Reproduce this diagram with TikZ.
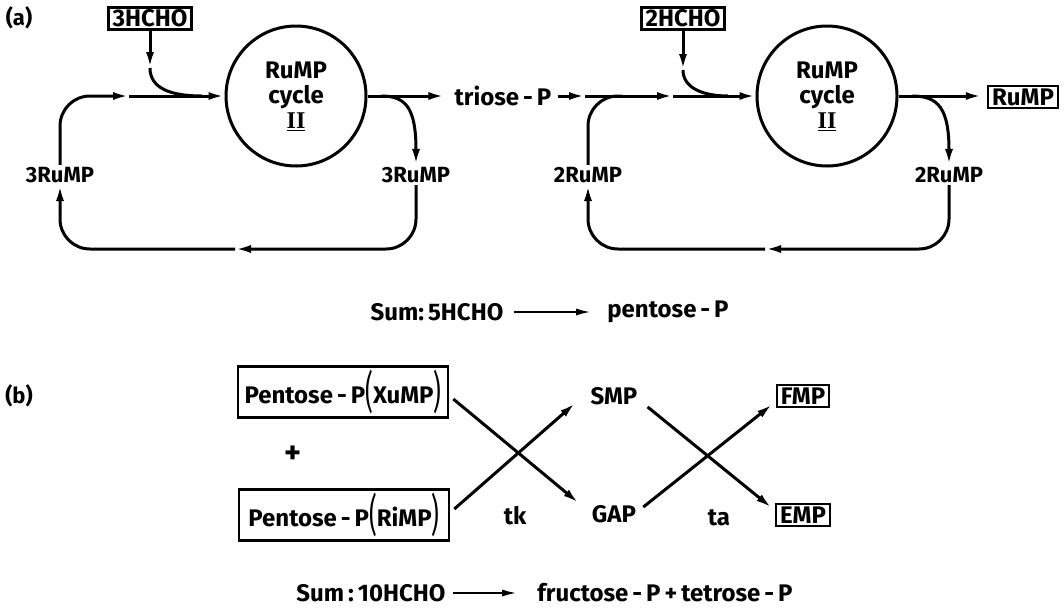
\documentclass[tikz,border=0pt]{standalone}
\usepackage{fontspec}
\usepackage{graphicx}
\setmainfont{Fira Sans}
\newfontfamily\romfont{Liberation Serif}
\usetikzlibrary{arrows.meta}
\tikzset{
  lbl/.style={font=\fontsize{24}{25}\selectfont\bfseries, inner sep=2pt},
  rlbl/.style={font=\fontsize{22}{22}\selectfont\bfseries, inner sep=2pt},
  boxed/.style={lbl, draw, line width=2.6pt, inner xsep=4pt, inner ysep=2.5pt},
  cyc/.style={circle, draw, line width=3pt, minimum size=140pt, inner sep=0pt, align=center, font=\fontsize{24}{25}\selectfont\bfseries},
  con/.style={line width=3pt},
  arr/.style={con, -{Latex[length=16pt,width=8pt]}},
  sumarr/.style={line width=2.2pt, -{Latex[length=15pt,width=7pt]}},
}
\newcommand{\bigpar}[1]{\raisebox{-4pt}{\scalebox{1}[1.85]{\mdseries #1}}}
\newcommand{\romtwo}{\underline{{\romfont\bfseries II}}}
\begin{document}
\begin{tikzpicture}[x=1pt,y=-1pt]
\useasboundingbox (0,0) rectangle (1064,611);
% ---------- (a) ----------
\node[rlbl] (pa) at (19,18) {(a)};
\node[boxed] (h3) at (150,18.5) {3HCHO};
\node[cyc] (c1) at (296,96) {RuMP\\cycle\\\romtwo};
\node[rlbl] (r3L) at (60,175) {3RuMP};
\node[rlbl] (r3R) at (416,175) {3RuMP};
\node[lbl] (tri) at (503,96) {triose\,-\,P};
\coordinate (m1) at (129,96);
\coordinate (h3m) at (150,68);
\coordinate (j1) at (202,96);
\coordinate (b1) at (381,96);
\coordinate (bm1) at (235,249);
\draw[arr, rounded corners=30pt] (r3L.north) |- (m1);
\draw[arr] (m1) -- (c1.west);
\draw[arr] (h3.south) -- (h3m);
\draw[con] (h3m) .. controls (150,88) and (170,96) .. (j1);
\draw[arr] (c1.east) -- ([xshift=-8pt]tri.west);
\draw[arr] (b1) .. controls (406,96) and (416,108) .. (r3R.north);
\draw[arr, rounded corners=30pt] (r3R.south) |- (bm1);
\draw[arr, rounded corners=30pt] (bm1) -| (r3L.south);
% second cycle
\node[boxed] (h2) at (683,18.5) {2HCHO};
\node[cyc] (c2) at (827,96) {RuMP\\cycle\\\romtwo};
\node[rlbl] (r2L) at (588,175) {2RuMP};
\node[rlbl] (r2R) at (949,175) {2RuMP};
\node[boxed] (rump) at (1023,97) {RuMP};
\coordinate (m3) at (585,96);
\coordinate (j3) at (622,96);
\coordinate (m4) at (673,96);
\coordinate (h2m) at (683,70);
\coordinate (j2) at (728,96);
\coordinate (b2) at (912,96);
\coordinate (bm2) at (765,249);
\draw[arr] ([xshift=4pt]tri.east) -- (m3);
\draw[arr] (m3) -- (m4);
\draw[arr] (m4) -- (c2.west);
\draw[con, rounded corners=30pt] (r2L.north) |- (j3);
\draw[arr] (h2.south) -- (h2m);
\draw[con] (h2m) .. controls (683,88) and (703,96) .. (j2);
\draw[arr] (c2.east) -- ([xshift=-5pt]rump.west |- c2.east);
\draw[arr] (b2) .. controls (938,96) and (949,108) .. (r2R.north);
\draw[arr, rounded corners=30pt] (r2R.south) |- (bm2);
\draw[arr, rounded corners=30pt] (bm2) -| (r2L.south);
% sum 1
\node[lbl] (s1a) at (437,312) {Sum:\,5HCHO};
\node[lbl] (s1b) at (668,312) {pentose\,-\,P};
\draw[sumarr] ([xshift=8pt]s1a.east) -- ([xshift=-14pt]s1b.west);
% ---------- (b) ----------
\node[rlbl] (pb) at (19,396) {(b)};
\node[boxed, minimum height=51pt, minimum width=210pt] (xu) at (343,392) {Pentose\,-\,P\bigpar{(}XuMP\bigpar{)}};
\node[boxed, minimum height=51pt, minimum width=210pt] (ri) at (344,515) {Pentose\,-\,P\bigpar{(}RiMP\bigpar{)}};
\node[lbl, font=\fontsize{32}{32}\selectfont\bfseries] (plus) at (293,455) {+};
\node[lbl] (smp) at (614,396) {SMP};
\node[lbl] (gap) at (614,514) {GAP};
\node[lbl] (tk) at (515,516) {tk};
\node[lbl] (ta) at (719,518) {ta};
\node[boxed] (fmp) at (803,396) {FMP};
\node[boxed] (emp) at (803,515) {EMP};
\draw[arr] ([xshift=4pt,yshift=-7pt]xu.east) -- ([xshift=-11pt]gap.north west);
\draw[arr] ([xshift=4pt,yshift=6pt]ri.east) -- ([xshift=-13pt,yshift=4pt]smp.south west);
\draw[arr] ([xshift=8pt]smp.south east) -- ([xshift=-3pt,yshift=-5pt]emp.north west);
\draw[arr] ([xshift=5pt,yshift=-4pt]gap.north east) -- ([xshift=-3pt,yshift=4pt]fmp.south west);
% sum 2
\node[lbl] (s2a) at (371,593) {Sum\,:\,10HCHO};
\node[lbl] (s2b) at (665,593) {fructose\,-\,P\,+\,tetrose\,-\,P};
\draw[sumarr] ([xshift=5pt]s2a.east) -- ([xshift=-18pt]s2b.west);
\end{tikzpicture}
\end{document}
